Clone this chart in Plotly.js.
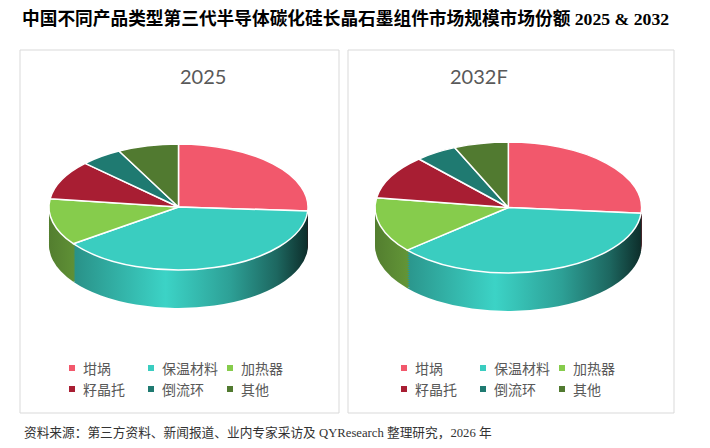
<!DOCTYPE html>
<html>
<head>
<meta charset="utf-8">
<script src="https://cdn.plot.ly/plotly-3.0.1.min.js"></script>
<style>html,body{margin:0;padding:0;background:#fff}</style>
</head>
<body>
<div id="chart" style="width:710px;height:448px"></div>
<script>
const labels = ['坩埚', '保温材料', '加热器', '籽晶托', '倒流环', '其他'];
const share2025 = [26.0, 39.1, 12.0, 10.1, 5.2, 7.6];
const share2032 = [26.4, 37.3, 13.7, 10.9, 5.1, 6.6];
const panelTitles = ['2025', '2032F'];

const topColors = ['#F2586C', '#3ACDC0', '#86CC4C', '#A81E33', '#1F7A71', '#517A30'];
// brightness across the pie's side wall, left edge -> right edge
const sideShade = [[0, 0.62], [0.45, 1.03], [0.7, 0.78], [0.88, 0.5], [1, 0.22]];

const cjk = 'Noto Sans CJK SC';
const serif = 'Liberation Serif, Noto Sans CJK SC';
const W = 710, H = 448;

// one block per year: pie position, flattening and legend origin (px)
const panels = [
  { values: share2025, x: [0.069, 0.4338], y: [0.2488, 0.8270], k: 0.4865, box: [20, 339], title: 178, legendX: 72 },
  { values: share2032, x: [0.5282, 0.9037], y: [0.2393, 0.8343], k: 0.491, box: [348, 674], title: 510, legendX: 404 },
];
const depth = 38, step = 2;
const legendColStep = 79, legendRows = [368, 389];

let data = [];
panels.forEach((p, pi) => {
  let base = {
    type: 'pie', labels: labels, values: p.values, sort: false,
    direction: 'clockwise', rotation: 0, textinfo: 'none', hoverinfo: 'label+percent',
    domain: { x: p.x, y: p.y }, showlegend: false,
  };
  // stacked copies under the top face give the pie its thickness
  for (let d = depth; d > 0; d -= step) {
    data.push(Object.assign({}, base, {
      marker: { colors: topColors, line: { width: 0 } },
      meta: { k: p.k, drop: d, side: pi },
    }));
  }
  data.push(Object.assign({}, base, {
    marker: { colors: topColors, line: { color: 'white', width: 1.5 } },
    meta: { k: p.k, drop: 0, side: -1 },
  }));
});

let shapes = [], annotations = [];
panels.forEach((p, pi) => {
  shapes.push({ type: 'rect', xref: 'paper', yref: 'paper', x0: p.box[0] / W, x1: p.box[1] / W, y0: 1 - 413 / H, y1: 1 - 50 / H, line: { color: '#d9d9d9', width: 1 } });
  annotations.push({ text: panelTitles[pi], x: p.title / W, y: 1 - 76 / H, xref: 'paper', yref: 'paper', yanchor: 'middle', showarrow: false, font: { family: 'Lato', size: 20, color: '#595959' } });
  // legend, 3 per row
  labels.forEach((lab, i) => {
    let mx = p.legendX + (i % 3) * legendColStep;
    let my = legendRows[Math.floor(i / 3)];
    shapes.push({ type: 'rect', xref: 'paper', yref: 'paper', x0: (mx - 3) / W, x1: (mx + 3) / W, y0: 1 - (my + 3) / H, y1: 1 - (my - 3) / H, fillcolor: topColors[i], line: { width: 0 } });
    annotations.push({ text: lab, x: (mx + 9) / W, y: 1 - my / H, xref: 'paper', yref: 'paper', xanchor: 'left', yanchor: 'middle', showarrow: false, font: { family: cjk, size: 14, color: '#595959' } });
  });
});
annotations.push({ text: '资料来源：第三方资料、新闻报道、业内专家采访及 QYResearch 整理研究，2026 年', x: 22 / W, y: 1 - 432 / H, xref: 'paper', yref: 'paper', xanchor: 'left', yanchor: 'middle', showarrow: false, font: { family: serif, size: 12.7, color: '#333' } });

var layout = {
  width: W, height: H,
  margin: { l: 0, r: 0, t: 0, b: 0 },
  paper_bgcolor: 'white',
  showlegend: false,
  title: {
    text: '中国不同产品类型第三代半导体碳化硅长晶石墨组件市场规模市场份额 2025 & 2032',
    font: { family: serif, size: 17.7, color: '#000', weight: 'bold' },
    x: 22 / W, xanchor: 'left', y: 1 - 19 / H, yanchor: 'middle',
  },
  shapes: shapes,
  annotations: annotations,
};

function shade(hex, f) {
  let n = parseInt(hex.slice(1), 16);
  return 'rgb(' + [n >> 16, (n >> 8) & 255, n & 255].map((c) => Math.min(255, Math.round(c * f))).join(',') + ')';
}

// squash every pie into an ellipse, push the copies down and shade the side wall
function flatten(gd) {
  let NS = 'http://www.w3.org/2000/svg';
  let defs = gd.querySelector('svg.main-svg defs');
  let made = {};
  gd.querySelectorAll('.pielayer g.trace').forEach((g) => {
    let cd0 = g.__data__[0];
    let m = cd0.trace.meta;
    g.setAttribute('transform', 'translate(0,' + (cd0.cy * (1 - m.k) + m.drop) + ') scale(1,' + m.k + ')');
    g.querySelectorAll('path.surface').forEach((s) => {
      s.style.vectorEffect = 'non-scaling-stroke';
      if (m.side < 0) return;
      let i = s.__data__.i;
      let id = 'side' + m.side + '_' + i;
      if (!made[id]) {
        let lg = document.createElementNS(NS, 'linearGradient');
        lg.setAttribute('id', id);
        lg.setAttribute('gradientUnits', 'userSpaceOnUse');
        lg.setAttribute('x1', cd0.cx - cd0.r);
        lg.setAttribute('x2', cd0.cx + cd0.r);
        lg.setAttribute('y1', 0);
        lg.setAttribute('y2', 0);
        sideShade.forEach(([o, f]) => {
          let st = document.createElementNS(NS, 'stop');
          st.setAttribute('offset', o);
          st.setAttribute('stop-color', shade(topColors[i], f));
          lg.appendChild(st);
        });
        defs.appendChild(lg);
        made[id] = true;
      }
      s.style.fill = 'url(#' + id + ')';
    });
  });
}

Plotly.newPlot('chart', data, layout, { displayModeBar: false, responsive: false }).then(flatten);
</script>
</body>
</html>
